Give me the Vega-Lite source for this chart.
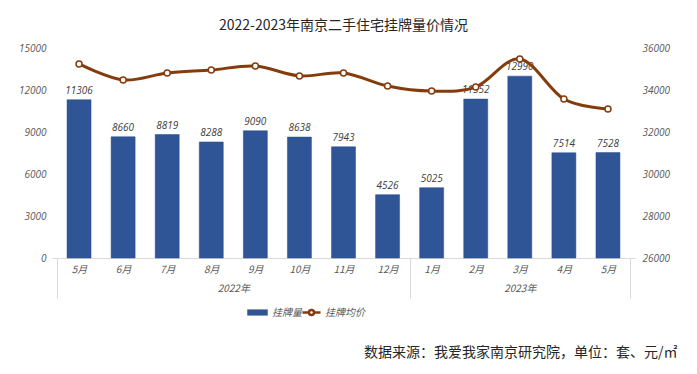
{
  "$schema": "https://vega.github.io/schema/vega-lite/v6.json",
  "width": 583,
  "height": 210,
  "autosize": {"type": "none"},
  "padding": {"left": 52, "top": 48, "right": 62, "bottom": 116},
  "background": "#ffffff",
  "title": {
    "text": "2022-2023年南京二手住宅挂牌量价情况",
    "font": "Noto Sans CJK SC",
    "fontSize": 14,
    "fontWeight": "normal",
    "color": "#262626",
    "anchor": "middle",
    "offset": 10
  },
  "data": {
    "values": [
      {"i": 0, "m": "5月", "count": 11306, "price": 35240},
      {"i": 1, "m": "6月", "count": 8660, "price": 34480},
      {"i": 2, "m": "7月", "count": 8819, "price": 34810},
      {"i": 3, "m": "8月", "count": 8288, "price": 34950},
      {"i": 4, "m": "9月", "count": 9090, "price": 35140},
      {"i": 5, "m": "10月", "count": 8638, "price": 34670},
      {"i": 6, "m": "11月", "count": 7943, "price": 34810},
      {"i": 7, "m": "12月", "count": 4526, "price": 34190},
      {"i": 8, "m": "1月", "count": 5025, "price": 33950},
      {"i": 9, "m": "2月", "count": 11352, "price": 34140},
      {"i": 10, "m": "3月", "count": 12990, "price": 35480},
      {"i": 11, "m": "4月", "count": 7514, "price": 33570},
      {"i": 12, "m": "5月", "count": 7528, "price": 33100}
    ]
  },
  "layer": [
    {
      "mark": {"type": "bar", "size": 24, "stroke": "#2a4c88", "strokeWidth": 0.5},
      "encoding": {
        "x": {
          "field": "i", "type": "quantitative",
          "scale": {"domain": [-0.5, 12.5], "nice": false, "zero": false},
          "axis": {
            "orient": "bottom", "title": null,
            "values": [0,1,2,3,4,5,6,7,8,9,10,11,12],
            "labelExpr": "['5月','6月','7月','8月','9月','10月','11月','12月','1月','2月','3月','4月','5月'][datum.value]",
            "tickSize": 0, "labelPadding": 6, "domain": true, "domainColor": "#d9d9d9", "domainWidth": 1,
            "labelFont": "Noto Sans CJK SC", "labelFontStyle": "italic", "labelFontSize": 10, "labelColor": "#595959",
            "grid": false
          }
        },
        "y": {
          "field": "count", "type": "quantitative",
          "scale": {"domain": [0, 15000], "nice": false},
          "axis": {
            "orient": "left", "title": null, "values": [0, 3000, 6000, 9000, 12000, 15000], "format": "d",
            "tickSize": 0, "labelPadding": 6, "domain": false, "grid": false,
            "labelFont": "Open Sans", "labelFontStyle": "italic", "labelFontSize": 10, "labelColor": "#595959"
          }
        },
        "fill": {
          "datum": "挂牌量",
          "scale": {"domain": ["挂牌量"], "range": ["#2F5597"]},
          "legend": {
            "title": null, "orient": "none", "direction": "horizontal",
            "legendX": 195, "legendY": 254,
            "symbolType": "M-1,-0.3H1V0.3H-1Z", "symbolSize": 420, "symbolStrokeWidth": 0,
            "labelOffset": 4,
            "labelFont": "Noto Sans CJK SC", "labelFontStyle": "italic", "labelFontSize": 10, "labelColor": "#595959"
          }
        }
      }
    },
    {
      "mark": {"type": "text", "baseline": "bottom", "dy": -4, "font": "Open Sans", "fontStyle": "italic", "fontSize": 10, "color": "#404040"},
      "encoding": {
        "x": {"field": "i", "type": "quantitative", "scale": {"domain": [-0.5, 12.5], "nice": false, "zero": false}, "axis": null},
        "y": {"field": "count", "type": "quantitative", "scale": {"domain": [0, 15000], "nice": false}, "axis": null},
        "text": {"field": "count", "type": "quantitative", "format": "d"}
      }
    },
    {
      "mark": {"type": "line", "interpolate": "cardinal", "strokeWidth": 3},
      "encoding": {
        "x": {
          "field": "i", "type": "quantitative",
          "scale": {"domain": [-0.5, 12.5], "nice": false, "zero": false},
          "axis": {
            "orient": "bottom", "title": null, "values": [-0.5, 7.5, 12.5],
            "labels": false, "tickSize": 40, "tickColor": "#d9d9d9", "tickWidth": 1, "domain": false, "grid": false
          }
        },
        "y": {
          "field": "price", "type": "quantitative",
          "scale": {"domain": [26000, 36000], "nice": false, "zero": false},
          "axis": {
            "orient": "right", "title": null, "values": [26000, 28000, 30000, 32000, 34000, 36000], "format": "d",
            "tickSize": 0, "labelPadding": 7, "domain": false, "grid": false,
            "labelFont": "Open Sans", "labelFontStyle": "italic", "labelFontSize": 10, "labelColor": "#595959"
          }
        },
        "stroke": {
          "datum": "挂牌均价",
          "scale": {"domain": ["挂牌均价"], "range": ["#843C0C"]},
          "legend": {
            "title": null, "orient": "none", "direction": "horizontal",
            "legendX": 249, "legendY": 254,
            "symbolType": "M-1,0H-0.28M0.28,0H1M-0.28,0A0.28,0.28 0 1,0 0.28,0A0.28,0.28 0 1,0 -0.28,0Z",
            "symbolSize": 324, "symbolStrokeWidth": 2.5, "symbolFillColor": "#ffffff",
            "labelOffset": 3,
            "labelFont": "Noto Sans CJK SC", "labelFontStyle": "italic", "labelFontSize": 10, "labelColor": "#595959"
          }
        }
      }
    },
    {
      "mark": {"type": "point", "shape": "circle", "filled": true, "fill": "#ffffff", "stroke": "#843C0C", "strokeWidth": 1.5, "size": 36, "opacity": 1},
      "encoding": {
        "x": {
          "field": "i", "type": "quantitative",
          "scale": {"domain": [-0.5, 12.5], "nice": false, "zero": false},
          "axis": {
            "orient": "bottom", "values": [3.5, 10],
            "labelExpr": "datum.value < 5 ? '2022年' : '2023年'",
            "tickSize": 0, "labelPadding": 25, "domain": false, "grid": false,
            "labelFont": "Noto Sans CJK SC", "labelFontStyle": "italic", "labelFontSize": 10, "labelColor": "#595959",
            "title": "数据来源：我爱我家南京研究院，单位：套、元/㎡",
            "titleFont": "Noto Sans CJK SC", "titleFontSize": 14, "titleFontWeight": "normal", "titleColor": "#262626",
            "titleX": 625, "titleY": 94, "titleAlign": "right", "titleBaseline": "middle", "titleAnchor": null
          }
        },
        "y": {"field": "price", "type": "quantitative", "scale": {"domain": [26000, 36000], "nice": false, "zero": false}, "axis": null}
      }
    }
  ],
  "resolve": {
    "scale": {"y": "independent"},
    "axis": {"x": "independent", "y": "independent"}
  },
  "config": {
    "view": {"stroke": null},
    "axis": {"grid": false}
  }
}
